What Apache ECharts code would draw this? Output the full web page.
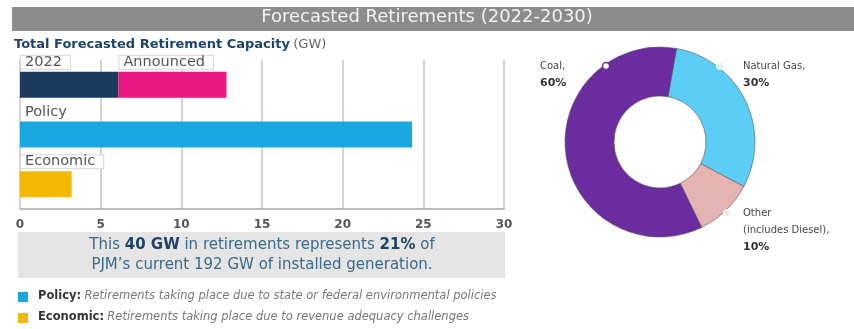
<!DOCTYPE html>
<html>
<head>
<meta charset="utf-8">
<script src="https://cdn.jsdelivr.net/npm/echarts@6/dist/echarts.min.js"></script>
<style>
  html, body { margin: 0; padding: 0; background: #fff; }
  #chart { width: 854px; height: 329px; }
</style>
</head>
<body>
<div id="chart"></div>
<script>
// Retirement capacity by category (GW)
const rowNames = ['Total', 'Policy', 'Economic'];
const retired2022 = [6.1, '-', '-'];
const announced = [6.7, '-', '-'];
const policy = ['-', 24.3, '-'];
const economic = ['-', '-', 3.2];
const axisTicks = [0, 5, 10, 15, 20, 25, 30];

// Share of retirements by fuel type (%)
const fuelNames = ['Natural Gas,', 'Other\n(includes Diesel),', 'Coal,'];
const fuelShares = [30, 10, 60];

const FONT = '"DejaVu Sans", "Noto Sans", sans-serif';
const chart = echarts.init(document.getElementById('chart'), null, { renderer: 'canvas' });

function barLabel(text, boxed) {
  return {
    show: true,
    position: [1, -16],
    formatter: text,
    color: '#555',
    fontFamily: FONT,
    fontSize: 14.5,
    backgroundColor: '#fff',
    borderColor: boxed ? '#d6d6d6' : 'transparent',
    borderWidth: 1,
    padding: [0, 8, 0, 4],
    lineHeight: 13
  };
}

const fuelColors = ['#5ccdf4', '#e6b3b3', '#6a2c9f'];
const fuelLabelPos = [[743, 58, 'left'], [743, 205, 'left'], [540, 58, 'left']];

chart.setOption({
  animation: false,
  graphic: [
    { type: 'rect', shape: { x: 12, y: 7, width: 842, height: 24 }, style: { fill: '#8c8c8c' } },
    { type: 'text', left: 'center', top: 8, style: { text: 'Forecasted Retirements (2022-2030)', fill: '#f2f2f2', font: '18px ' + FONT } },
    { type: 'text', left: 14, top: 38, style: {
        text: '{b|Total Forecasted Retirement Capacity} {r|(GW)}',
        rich: {
          b: { fill: '#1d4466', font: 'bold 13px ' + FONT },
          r: { fill: '#666', font: '13px ' + FONT }
        } } },
    { type: 'rect', shape: { x: 18, y: 232, width: 487, height: 46 }, style: { fill: '#e5e5e5' } },
    { type: 'text', x: 262, y: 235, style: {
        text: '{n|This }{b|40 GW}{n| in retirements represents }{b|21%}{n| of}\n{n|PJM\u2019s current 192 GW of installed generation.}',
        align: 'center',
        rich: {
          n: { fill: '#3a6b8c', font: '15px ' + FONT, lineHeight: 20 },
          b: { fill: '#1d4466', font: 'bold 15px ' + FONT, lineHeight: 20 }
        } } },
    { type: 'rect', shape: { x: 18, y: 292, width: 10, height: 10 }, style: { fill: '#1aa7e0' } },
    { type: 'text', x: 38, y: 290, style: {
        text: '{b|Policy:} {i|Retirements taking place due to state or federal environmental policies}',
        rich: { b: { fill: '#333', font: 'bold 11.5px ' + FONT }, i: { fill: '#777', font: 'italic 11.5px ' + FONT } } } },
    { type: 'rect', shape: { x: 18, y: 313, width: 10, height: 10 }, style: { fill: '#f5b800' } },
    { type: 'text', x: 38, y: 311, style: {
        text: '{b|Economic:} {i|Retirements taking place due to revenue adequacy challenges}',
        rich: { b: { fill: '#333', font: 'bold 11.5px ' + FONT }, i: { fill: '#777', font: 'italic 11.5px ' + FONT } } } },
    // markers where each donut label attaches
    { type: 'circle', shape: { cx: 606, cy: 66, r: 3.5 }, style: { fill: '#fff', stroke: '#6a2c9f', lineWidth: 1.5 }, z: 10 },
    { type: 'circle', shape: { cx: 720, cy: 66, r: 3.5 }, style: { fill: '#d6f3fd', stroke: '#fff', lineWidth: 1 }, z: 10 },
    { type: 'circle', shape: { cx: 727, cy: 213, r: 3.5 }, style: { fill: '#f6e4e4', stroke: '#fff', lineWidth: 1 }, z: 10 }
  ],
  grid: { left: 20, right: 350, top: 60, bottom: 120 },
  xAxis: {
    type: 'value', min: axisTicks[0], max: axisTicks[axisTicks.length - 1], interval: 5,
    axisLine: { show: true, lineStyle: { color: '#aaa', width: 1.5 } },
    axisTick: { show: false },
    splitLine: { show: true, lineStyle: { color: '#c4c4c4', width: 1.5 } },
    axisLabel: { color: '#555', fontFamily: FONT, fontSize: 12, fontWeight: 'bold', margin: 10 }
  },
  yAxis: {
    type: 'category', data: rowNames, inverse: true,
    axisLine: { show: false }, axisTick: { show: false }, axisLabel: { show: false }
  },
  series: [
    { name: '2022', type: 'bar', stack: 'r', barWidth: 26, data: retired2022,
      itemStyle: { color: '#1b3a5e' }, label: barLabel('2022', true) },
    { name: 'Announced', type: 'bar', stack: 'r', barWidth: 26, data: announced,
      itemStyle: { color: '#e8187f' }, label: barLabel('Announced', true) },
    { name: 'Policy', type: 'bar', stack: 'r', barWidth: 26, data: policy,
      itemStyle: { color: '#1aa7e0' }, label: barLabel('Policy', false) },
    { name: 'Economic', type: 'bar', stack: 'r', barWidth: 26, data: economic,
      itemStyle: { color: '#f5b800' }, label: barLabel('Economic', true) },
    { type: 'pie', center: [660, 142], radius: [46, 95], startAngle: 80, clockwise: true,
      data: fuelNames.map((n, i) => ({ name: n, value: fuelShares[i], itemStyle: { color: fuelColors[i] } })),
      itemStyle: { borderColor: '#555', borderWidth: 0.6 },
      label: {
        show: true, position: 'outside', overflow: 'none', width: 200,
        formatter: p => p.name + '\n{b|' + p.value + '%}',
        color: '#444', fontFamily: FONT, fontSize: 10, lineHeight: 17,
        rich: { b: { fontWeight: 'bold', fontSize: 11, color: '#333', fontFamily: FONT, lineHeight: 17 } }
      },
      labelLine: { show: false },
      labelLayout: p => {
        const q = fuelLabelPos[p.dataIndex];
        return { x: q[0], y: q[1], align: q[2], verticalAlign: 'top' };
      },
      emphasis: { disabled: true }
    }
  ]
});
</script>
</body>
</html>
